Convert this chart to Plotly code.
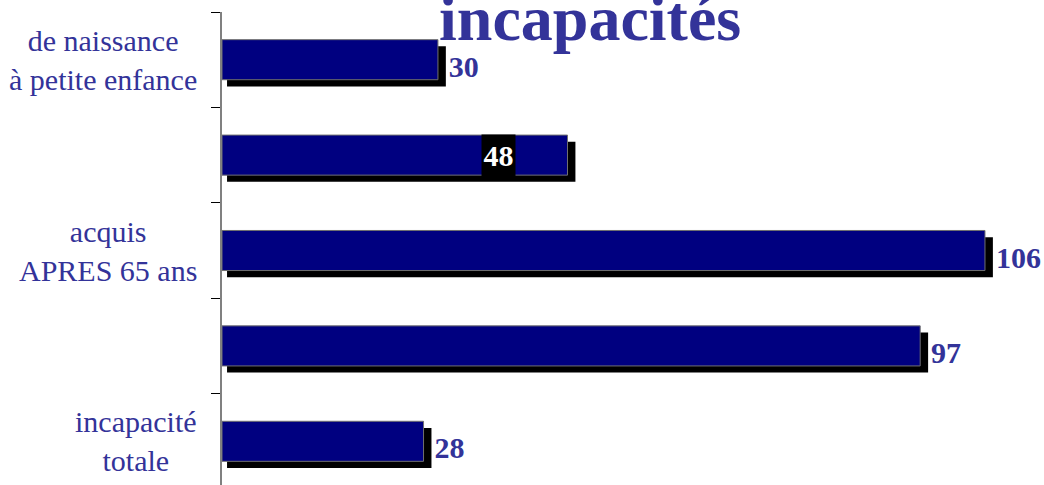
import plotly.graph_objects as go

# ---- data ----
categories = ["de naissance<br>à petite enfance", " ", "acquis<br>APRES 65 ans", "  ", "incapacité<br>totale"]
values = [30, 48, 106, 97, 28]
label_lines = ["de naissance<br>à petite enfance", "", "acquis<br>APRES 65 ans", "", "incapacité<br>totale"]
title_text = "incapacités"
boxed_index = 1  # the value label shown white on black inside its bar

SERIF = "Liberation Serif, Times New Roman, serif"
NAVY = "#000080"
TXT = "#333399"

BAR_W = 0.42
SHADOW_DY = 0.07   # category units (downwards)
SHADOW_DX = 0.7    # value units (rightwards)

fig = go.Figure()

# shadow bars (carry the outside value labels)
shadow_text = [("" if i == boxed_index else str(v)) for i, v in enumerate(values)]
fig.add_trace(go.Bar(
    y=categories, x=[v + 0.4 for v in values], base=SHADOW_DX, orientation="h",
    width=BAR_W, offset=-BAR_W / 2 + SHADOW_DY,
    marker=dict(color="black", line=dict(width=0)),
    text=shadow_text, textposition="outside", constraintext="none",
    textfont=dict(family=SERIF, size=30, color=TXT, weight="bold"),
    cliponaxis=False, hoverinfo="skip", showlegend=False,
))

# main bars
fig.add_trace(go.Bar(
    y=categories, x=values, orientation="h",
    width=BAR_W, offset=-BAR_W / 2,
    marker=dict(color=NAVY, line=dict(color="#707070", width=1)),
    showlegend=False,
))

annotations = []
for cat, txt in zip(categories, label_lines):
    if txt:
        annotations.append(dict(
            x=0, xref="paper", y=cat, yref="y", text=txt, showarrow=False,
            xanchor="right", yanchor="middle", align="center", xshift=-23,
            font=dict(family=SERIF, size=30, color=TXT),
        ))

# boxed value label
annotations.append(dict(
    x=values[boxed_index], xref="x", y=categories[boxed_index], yref="y",
    text=str(values[boxed_index]), showarrow=False, xanchor="right", yanchor="middle",
    xshift=-52, bgcolor="black", borderpad=1, width=31, height=39,
    font=dict(family=SERIF, size=30, color="white", weight="bold"),
))

# title (partially cut off at the top)
annotations.append(dict(
    x=(589.5 - 222) / 822, xref="paper", y=1, yref="paper", text=title_text, showarrow=False,
    xanchor="center", yanchor="top", yshift=31,
    font=dict(family=SERIF, size=64, color=TXT, weight="bold"),
))

fig.update_layout(
    width=1044, height=485,
    margin=dict(l=222, r=0, t=12, b=0),
    paper_bgcolor="white", plot_bgcolor="white",
    barmode="overlay", showlegend=False,
    annotations=annotations,
    xaxis=dict(range=[0, 114.2], showgrid=False, zeroline=False, showline=False,
               showticklabels=False, ticks=""),
    yaxis=dict(type="category", categoryorder="array", categoryarray=categories,
               range=[4.458, -0.5], showgrid=False, zeroline=False,
               showline=True, linecolor="#808080", linewidth=2,
               ticks="outside", tickson="boundaries", ticklen=9, tickcolor="black",
               tickwidth=1, showticklabels=False),
)

fig.write_html(
    "out.html",
    config={"displayModeBar": False},
    post_script="document.body.style.margin='0';document.body.style.overflow='hidden';",
)
